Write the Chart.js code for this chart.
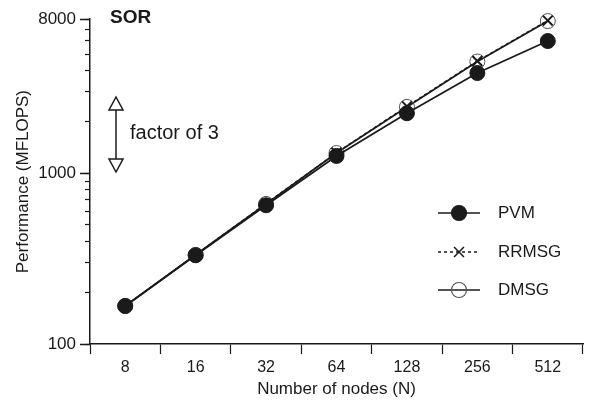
<!DOCTYPE html>
<html>
<head>
<meta charset="utf-8">
<script src="https://cdn.jsdelivr.net/npm/chart.js"></script>
<style>
  html, body { margin: 0; padding: 0; background: #fff; }
  #wrap { width: 592px; height: 402px; }
</style>
</head>
<body>
<div id="wrap"><canvas id="sor-chart"></canvas></div>
<script>
var nodes = ["8", "16", "32", "64", "128", "256", "512"];
var pvm = [167, 331, 650, 1265, 2250, 3870, 5960];
var rrmsg = [167, 333, 665, 1320, 2470, 4550, 7850];
var dmsg = [167, 333, 662, 1315, 2450, 4520, 7800];
var yTicks = [100, 200, 300, 400, 500, 600, 700, 800, 900, 1000, 2000, 3000, 4000, 5000, 6000, 7000, 8000];
var yLabels = [100, 1000, 8000];

var ink = "#1a1a1a";
var face = "'Liberation Sans', Arial, sans-serif";
Chart.defaults.font.family = face;
Chart.defaults.font.size = 16;
Chart.defaults.color = ink;

// legend, labels and the "factor of 3" arrow drawn on top
var extras = {
  id: "extras",
  afterDraw: function (chart) {
    var ctx = chart.ctx;
    var area = chart.chartArea;
    var y = chart.scales.y;
    ctx.save();
    ctx.strokeStyle = ink;
    ctx.fillStyle = ink;

    // longer ticks at labelled values
    ctx.lineWidth = 1.5;
    yLabels.forEach(function (v) {
      var py = Math.round(y.getPixelForValue(v)) + 0.5;
      ctx.beginPath();
      ctx.moveTo(area.left - 10, py);
      ctx.lineTo(area.left, py);
      ctx.stroke();
    });

    ctx.font = "bold 19px " + face;
    ctx.textBaseline = "middle";
    ctx.textAlign = "left";
    ctx.fillText("SOR", 110, 18);

    // double arrow
    var ax = 116, top = 97, bot = 172;
    ctx.lineWidth = 1.5;
    ctx.beginPath();
    ctx.moveTo(ax, top + 13);
    ctx.lineTo(ax, bot - 13);
    ctx.stroke();
    ctx.fillStyle = "#fff";
    ctx.beginPath();
    ctx.moveTo(ax, top); ctx.lineTo(ax - 7, top + 13); ctx.lineTo(ax + 7, top + 13); ctx.closePath();
    ctx.fill(); ctx.stroke();
    ctx.beginPath();
    ctx.moveTo(ax, bot); ctx.lineTo(ax - 7, bot - 13); ctx.lineTo(ax + 7, bot - 13); ctx.closePath();
    ctx.fill(); ctx.stroke();
    ctx.fillStyle = ink;
    ctx.font = "20px " + face;
    ctx.fillText("factor of 3", 130, 133);

    // legend
    var rows = [213, 252, 290];
    chart.data.datasets.forEach(function (ds, i) {
      var ry = rows[i];
      ctx.lineWidth = 1.5;
      ctx.strokeStyle = ink;
      ctx.setLineDash(ds.borderDash || []);
      ctx.beginPath();
      ctx.moveTo(438, ry);
      ctx.lineTo(480, ry);
      ctx.stroke();
      ctx.setLineDash([]);
      if (ds.pointStyle === "circle") {
        ctx.fillStyle = ds.pointBackgroundColor;
        ctx.strokeStyle = ds.pointBorderColor;
        ctx.lineWidth = 1.2;
        ctx.beginPath();
        ctx.arc(459, ry, 7.5, 0, Math.PI * 2);
        ctx.fill();
        ctx.stroke();
      } else {
        ctx.fillStyle = ink;
        ctx.strokeStyle = ink;
        Chart.helpers.drawPoint(ctx, { pointStyle: ds.pointStyle, radius: 7, borderWidth: 2 }, 459, ry);
      }
      ctx.fillStyle = ink;
      ctx.font = "17px " + face;
      ctx.fillText(ds.label, 498, ry);
    });
    ctx.restore();
  }
};

new Chart("sor-chart", {
  type: "line",
  data: {
    labels: nodes,
    datasets: [{
      label: "PVM",
      data: pvm,
      clip: false,
      borderColor: ink,
      borderWidth: 1.8,
      pointStyle: "circle",
      pointRadius: 7.5,
      pointBackgroundColor: ink,
      pointBorderColor: ink,
      pointBorderWidth: 1
    }, {
      label: "RRMSG",
      data: rrmsg,
      clip: false,
      borderColor: ink,
      borderWidth: 1.5,
      borderDash: [3, 3],
      pointStyle: "crossRot",
      pointRadius: 7,
      pointBackgroundColor: ink,
      pointBorderColor: ink,
      pointBorderWidth: 2
    }, {
      label: "DMSG",
      data: dmsg,
      clip: false,
      borderColor: ink,
      borderWidth: 1.8,
      pointStyle: "circle",
      pointRadius: 7.5,
      pointBackgroundColor: "rgba(255,255,255,0)",
      pointBorderColor: "#555",
      pointBorderWidth: 1
    }]
  },
  options: {
    responsive: true,
    maintainAspectRatio: false,
    animation: false,
    layout: { padding: { top: 18, right: 4, left: 0, bottom: 0 } },
    plugins: {
      legend: { display: false },
      tooltip: { enabled: false }
    },
    scales: {
      x: {
        type: "category",
        offset: true,
        afterFit: function (s) { s.height = 58; },
        border: { color: ink, width: 1.5 },
        grid: { offset: true, drawOnChartArea: false, tickLength: 10, tickColor: ink, tickWidth: 1.2 },
        ticks: { padding: 4, color: ink, font: { size: 16 } },
        title: { display: true, text: "Number of nodes (N)", color: ink, font: { size: 17 }, padding: { top: 0, bottom: 2 } }
      },
      y: {
        type: "logarithmic",
        min: 100,
        max: 8000,
        afterFit: function (s) { s.width = 90; },
        afterBuildTicks: function (s) {
          s.ticks = yTicks.map(function (v) { return { value: v }; });
        },
        border: { color: ink, width: 1.5 },
        grid: { drawOnChartArea: false, tickLength: 5, tickColor: ink, tickWidth: 1.2 },
        ticks: {
          autoSkip: false,
          padding: 9,
          color: ink,
          font: { size: 17 },
          callback: function (v) { return yLabels.indexOf(v) >= 0 ? String(v) : ""; }
        },
        title: { display: true, text: "Performance (MFLOPS)", color: ink, font: { size: 17 }, padding: { top: 13, bottom: 0 } }
      }
    }
  },
  plugins: [extras]
});
</script>
</body>
</html>
